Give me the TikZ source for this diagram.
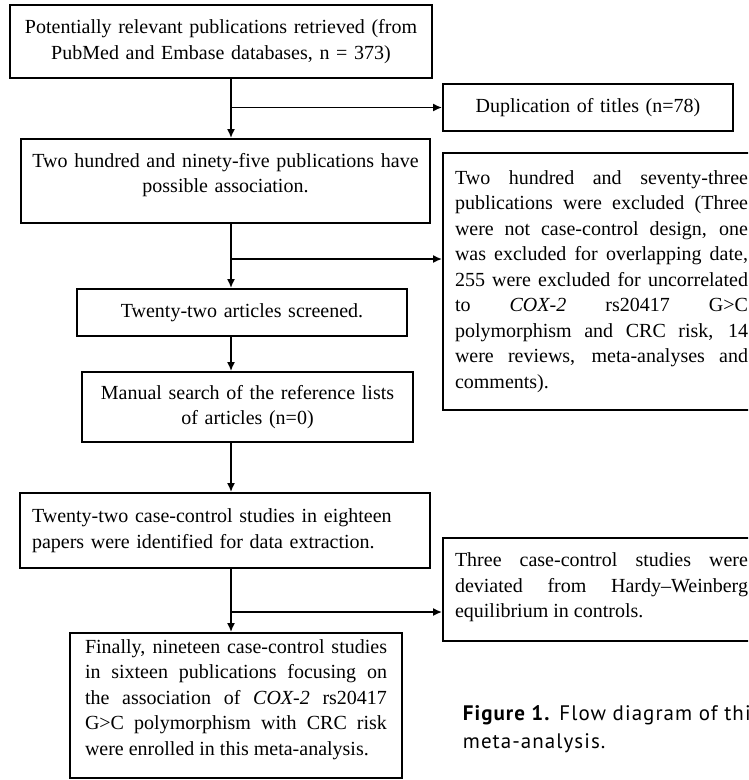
\documentclass[tikz,border=0pt]{standalone}
\usepackage{fontspec}
\setmainfont{Liberation Serif}
\newfontfamily\capfont[LetterSpace=5]{PT Sans}
\usetikzlibrary{arrows.meta}

\begin{document}
\begin{tikzpicture}[x=1pt, y=-1pt, >={Latex[length=9pt, width=8pt]}, line width=1.8pt,
		every node/.style={font=\fontsize{20}{25.5}\selectfont},
		box/.style={draw, line width=1.8pt, inner xsep=12pt, inner ysep=0pt, align=center},
		jbox/.style={box, align=justify},
		captext/.style={anchor=base west, inner sep=0pt, font=\capfont\fontsize{21}{28}\selectfont}]
	% 1. 画布 (右侧框超出边缘, 裁掉)
	\clip (0,0) rectangle (748,780);
	\coordinate (trunk) at (231,0);
	
	% 2. 主流程框
	\node[box, text width=398pt, minimum height=73pt] (pub) at (221,41.5)
		{Potentially relevant publications retrieved (from\\PubMed and Embase databases, n = 373)};
	\node[box, text width=399pt, inner xsep=5pt, minimum height=84pt] (poss) at (225.5,181)
		{Two hundred and ninety-five publications have\\possible association.\vspace{12pt}};
	\node[box, text width=306pt, minimum height=47pt] (screen) at (242,312.5)
		{Twenty-two articles screened.};
	\node[box, text width=307pt, minimum height=70pt] (manual) at (247.5,407)
		{Manual search of the reference lists\\of articles (n=0)};
	\node[box, text width=386pt, minimum height=75pt, align=left] (ident) at (225,530.5)
		{Twenty-two case-control studies in eighteen\\papers were identified for data extraction.};
	\node[jbox, text width=302pt, inner xsep=15pt, minimum height=145pt] (final) at (236,705.5)
		{Finally, nineteen case-control studies\linebreak in sixteen publications focusing on\linebreak the association of \textit{COX-2} rs20417\linebreak G>C polymorphism with CRC risk\linebreak were enrolled in this meta-analysis.\vspace{12pt}};
	
	% 3. 排除框 (右列)
	\node[box, text width=266pt, minimum height=47pt] (dup) at (588,107.5)
		{Duplication of titles (n=78)};
	\node[jbox, text width=293pt, minimum height=257pt] (excl) at (601.5,281.5)
		{Two hundred and seventy-three\linebreak publications were excluded (Three\linebreak were not case-control design, one\linebreak was excluded for overlapping date,\linebreak 255 were excluded for uncorrelated\linebreak to \textit{COX-2} rs20417 G>C\linebreak polymorphism and CRC risk, 14\linebreak were reviews, meta-analyses and\linebreak comments).};
	\node[jbox, text width=293pt, minimum height=103pt] (hwe) at (601.5,589.5)
		{Three case-control studies were\linebreak deviated from Hardy–Weinberg\linebreak equilibrium in controls.\vspace{4pt}};
	
	% 4. 箭头 (主干 + 分支)
	\draw[->] (pub.south -| trunk) -- (poss.north -| trunk);
	\draw[->] (poss.south -| trunk) -- (screen.north -| trunk);
	\draw[->] (screen.south -| trunk) -- (manual.north -| trunk);
	\draw[->] (manual.south -| trunk) -- (ident.north -| trunk);
	\draw[->] (ident.south -| trunk) -- (final.north -| trunk);
	\coordinate (b1) at (231,107.5);
	\coordinate (b2) at (231,259);
	\coordinate (b3) at (231,612);
	\draw[->] (b1) -- (b1 -| dup.west);
	\draw[->] (b2) -- (b2 -| excl.west);
	\draw[->] (b3) -- (b3 -| hwe.west);
	
	% 5. 图注
	\node[captext] (cap1) at (462,720) {\textbf{Figure 1.} Flow diagram of this};
	\node[captext] (cap2) at (462,748) {meta-analysis.};
\end{tikzpicture}
\end{document}
